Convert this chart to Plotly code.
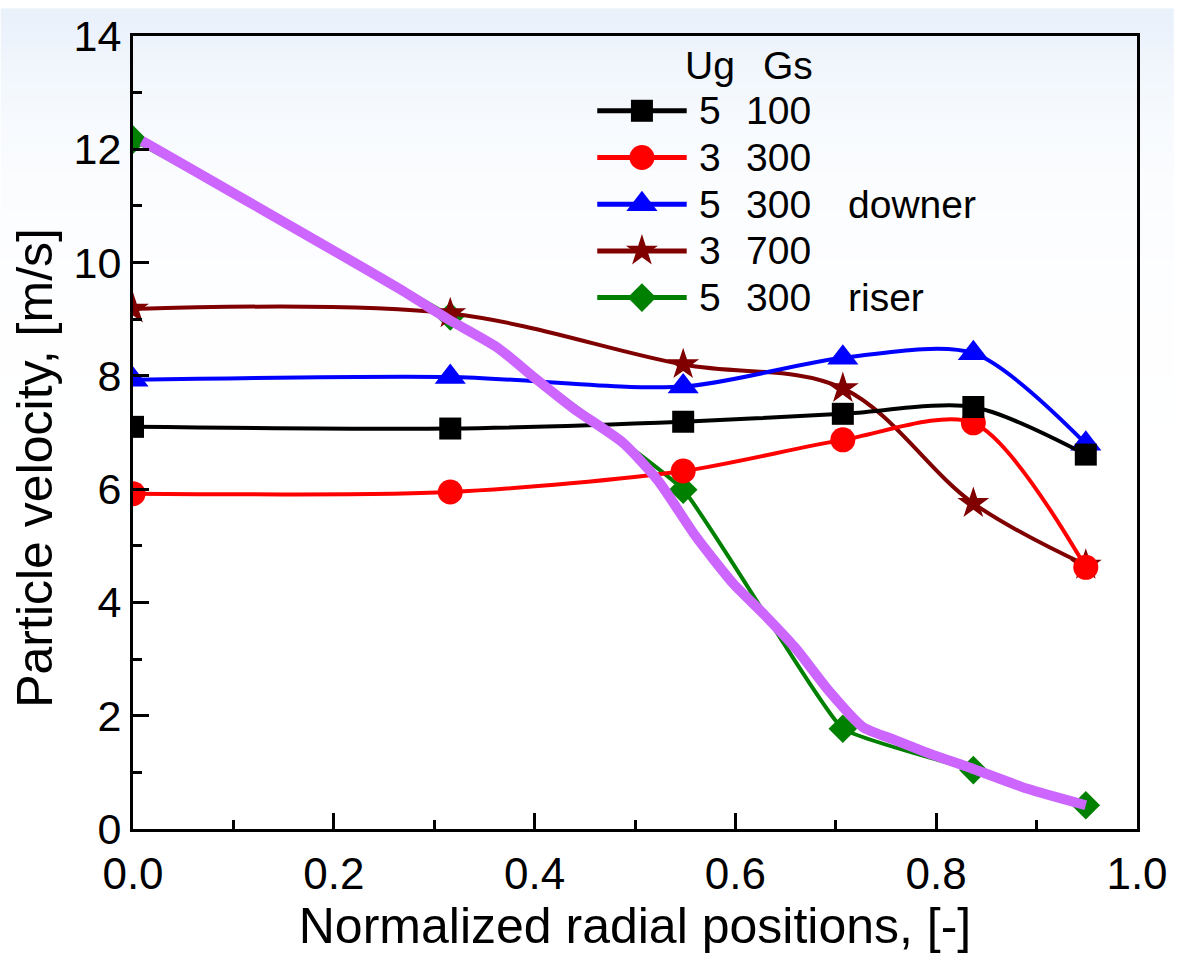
import base64
import math
import struct
import zlib

import plotly.graph_objects as go

# ---------------------------------------------------------------- data
r_pos = [0.0, 0.316, 0.548, 0.707, 0.837, 0.949]

v_5_100 = [7.10, 7.07, 7.19, 7.33, 7.45, 6.61]
v_3_300 = [5.92, 5.95, 6.32, 6.87, 7.17, 4.62]
v_5_300_downer = [7.93, 7.98, 7.81, 8.32, 8.40, 6.80]
v_3_700 = [9.18, 9.10, 8.20, 7.78, 5.75, 4.66]
v_5_300_riser = [12.17, 9.05, 5.99, 1.77, 1.04, 0.42]

# fitted profile drawn over the riser data
fit_r = [0.009, 0.264, 0.314, 0.363, 0.401, 0.439, 0.488, 0.523, 0.560, 0.598,
         0.629, 0.660, 0.693, 0.727, 0.759, 0.792, 0.837, 0.891, 0.949]
fit_v = [12.15, 9.55, 9.00, 8.50, 7.95, 7.42, 6.82, 6.15, 5.18, 4.33,
         3.78, 3.19, 2.44, 1.80, 1.57, 1.34, 1.06, 0.71, 0.42]

legend_ug = ["5", "3", "5", "3", "5"]
legend_gs = ["100", "300", "300", "700", "300"]
legend_note = ["", "", "downer", "", "riser"]

x_ticks = [0.0, 0.2, 0.4, 0.6, 0.8, 1.0]
y_ticks = [0, 2, 4, 6, 8, 10, 12, 14]

# ---------------------------------------------------------------- styles
FONT = "Liberation Sans, Arial, Helvetica, sans-serif"
series = [
    # (values, colour, symbol, marker size, spline smoothing)
    (v_5_300_riser, "#008000", "diamond", 22, 0.3),
    (v_3_700, "#800000", "star", 24, 1.0),
    (v_5_300_downer, "#0000FF", "triangle-up", 27, 0.8),
    (v_3_300, "#FF0000", "circle", 25, 0.8),
    (v_5_100, "#000000", "square", 22, 0.8),
]
legend_order = [4, 3, 2, 1, 0]  # rows of the key, top to bottom


def backdrop_png(height=96):
    """Pale-blue to white vertical backdrop, as a 1-px wide RGB PNG data URI."""
    rows = []
    for i in range(height):
        y = i * 957 / height
        k = math.exp(-y / 110.0)
        rows.append((round(255 - 22 * k), round(255 - 14 * k), round(255 - 4 * k)))
    raw = b"".join(b"\x00" + bytes(c) for c in rows)

    def chunk(tag, data):
        body = tag + data
        return struct.pack(">I", len(data)) + body + struct.pack(">I", zlib.crc32(body) & 0xFFFFFFFF)

    ihdr = struct.pack(">IIBBBBB", 1, height, 8, 2, 0, 0, 0)
    png = b"\x89PNG\r\n\x1a\n" + chunk(b"IHDR", ihdr) + chunk(b"IDAT", zlib.compress(raw)) + chunk(b"IEND", b"")
    return "data:image/png;base64," + base64.b64encode(png).decode()


fig = go.Figure()

for vals, col, sym, size, smooth in series:
    fig.add_trace(go.Scatter(
        x=r_pos, y=vals, mode="lines+markers",
        line=dict(color=col, width=4, shape="spline", smoothing=smooth),
        marker=dict(color=col, symbol=sym, size=size, line=dict(width=0)),
        showlegend=False,
    ))

fig.add_trace(go.Scatter(
    x=fit_r, y=fit_v, mode="lines",
    line=dict(color="#CC66FF", width=10, shape="spline", smoothing=0.6),
    showlegend=False,
))

# ---------------------------------------------------------------- key
# plot area is 1010 x 806 px; key positions are given in paper fractions
KEY_X0, KEY_X1, KEY_XM = 0.4624, 0.5515, 0.5069
KEY_UG_X, KEY_GS_X, KEY_NOTE_X = 0.5614, 0.6772, 0.7099
KEY_HEAD_Y, KEY_ROW0_Y, KEY_STEP = 0.963, 0.9057, 0.0589
KEY_FONT = dict(family=FONT, size=39, color="black")

shapes = []
annotations = [
    dict(x=0.5475, y=KEY_HEAD_Y, xref="paper", yref="paper", text="Ug",
         xanchor="left", yanchor="middle", showarrow=False, font=KEY_FONT),
    dict(x=KEY_GS_X + 0.002, y=KEY_HEAD_Y, xref="paper", yref="paper", text="Gs",
         xanchor="right", yanchor="middle", showarrow=False, font=KEY_FONT),
    # y-axis title, placed as text so its centre can sit a little below mid-height
    dict(x=-0.097, y=0.455, xref="paper", yref="paper", text="Particle velocity, [m/s]",
         textangle=-90, xanchor="center", yanchor="middle", showarrow=False,
         font=dict(family=FONT, size=50, color="black")),
]
for row, idx in enumerate(legend_order):
    vals, col, sym, size, _ = series[idx]
    y = KEY_ROW0_Y - row * KEY_STEP
    shapes.append(dict(type="line", xref="paper", yref="paper", x0=KEY_X0, x1=KEY_X1,
                       y0=y, y1=y, line=dict(color=col, width=5), layer="above"))
    fig.add_trace(go.Scatter(
        x=[KEY_XM], y=[y], xaxis="x2", yaxis="y2", mode="markers",
        marker=dict(color=col, symbol=sym, size=size, line=dict(width=0)),
        showlegend=False, hoverinfo="skip", cliponaxis=False,
    ))
    annotations.append(dict(x=KEY_UG_X, y=y, xref="paper", yref="paper",
                            text=legend_ug[row], xanchor="left", yanchor="middle",
                            showarrow=False, font=KEY_FONT))
    annotations.append(dict(x=KEY_GS_X, y=y, xref="paper", yref="paper",
                            text=legend_gs[row], xanchor="right", yanchor="middle",
                            showarrow=False, font=KEY_FONT))
    if legend_note[row]:
        annotations.append(dict(x=KEY_NOTE_X, y=y, xref="paper", yref="paper",
                                text=legend_note[row], xanchor="left", yanchor="middle",
                                showarrow=False, font=KEY_FONT))

axis_common = dict(
    showline=True, linecolor="black", linewidth=3, mirror=True,
    ticks="inside", ticklen=16, tickwidth=3, tickcolor="black",
    showgrid=False, zeroline=False,
)

fig.update_layout(
    width=1180, height=957,
    margin=dict(l=133, r=37, t=28, b=123),
    paper_bgcolor="white",
    plot_bgcolor="rgba(0,0,0,0)",
    showlegend=False,
    xaxis=dict(
        range=[0, 1.0], tickvals=x_ticks, ticktext=[f"{v:.1f}" for v in x_ticks],
        tickfont=dict(family=FONT, size=44, color="black"), ticklabelstandoff=4,
        minor=dict(ticks="inside", ticklen=9, tickwidth=3, tickcolor="black", dtick=0.1),
        title=dict(text="Normalized radial positions, [-]",
                   font=dict(family=FONT, size=50, color="black"), standoff=12),
        **axis_common,
    ),
    yaxis=dict(
        range=[0, 14], tickvals=y_ticks,
        tickfont=dict(family=FONT, size=43, color="black"),
        minor=dict(ticks="inside", ticklen=9, tickwidth=3, tickcolor="black", dtick=1),
        **axis_common,
    ),
    xaxis2=dict(overlaying="x", range=[0, 1], visible=False, fixedrange=True),
    yaxis2=dict(overlaying="y", range=[0, 1], visible=False, fixedrange=True, anchor="x2"),
    shapes=shapes,
    annotations=annotations,
    images=[dict(
        source=backdrop_png(), xref="paper", yref="paper",
        x=-133 / 1010, y=1 + 28 / 806, sizex=1180 / 1010, sizey=957 / 806,
        xanchor="left", yanchor="top", sizing="stretch", layer="below",
    )],
)

fig.write_html("out.html")
